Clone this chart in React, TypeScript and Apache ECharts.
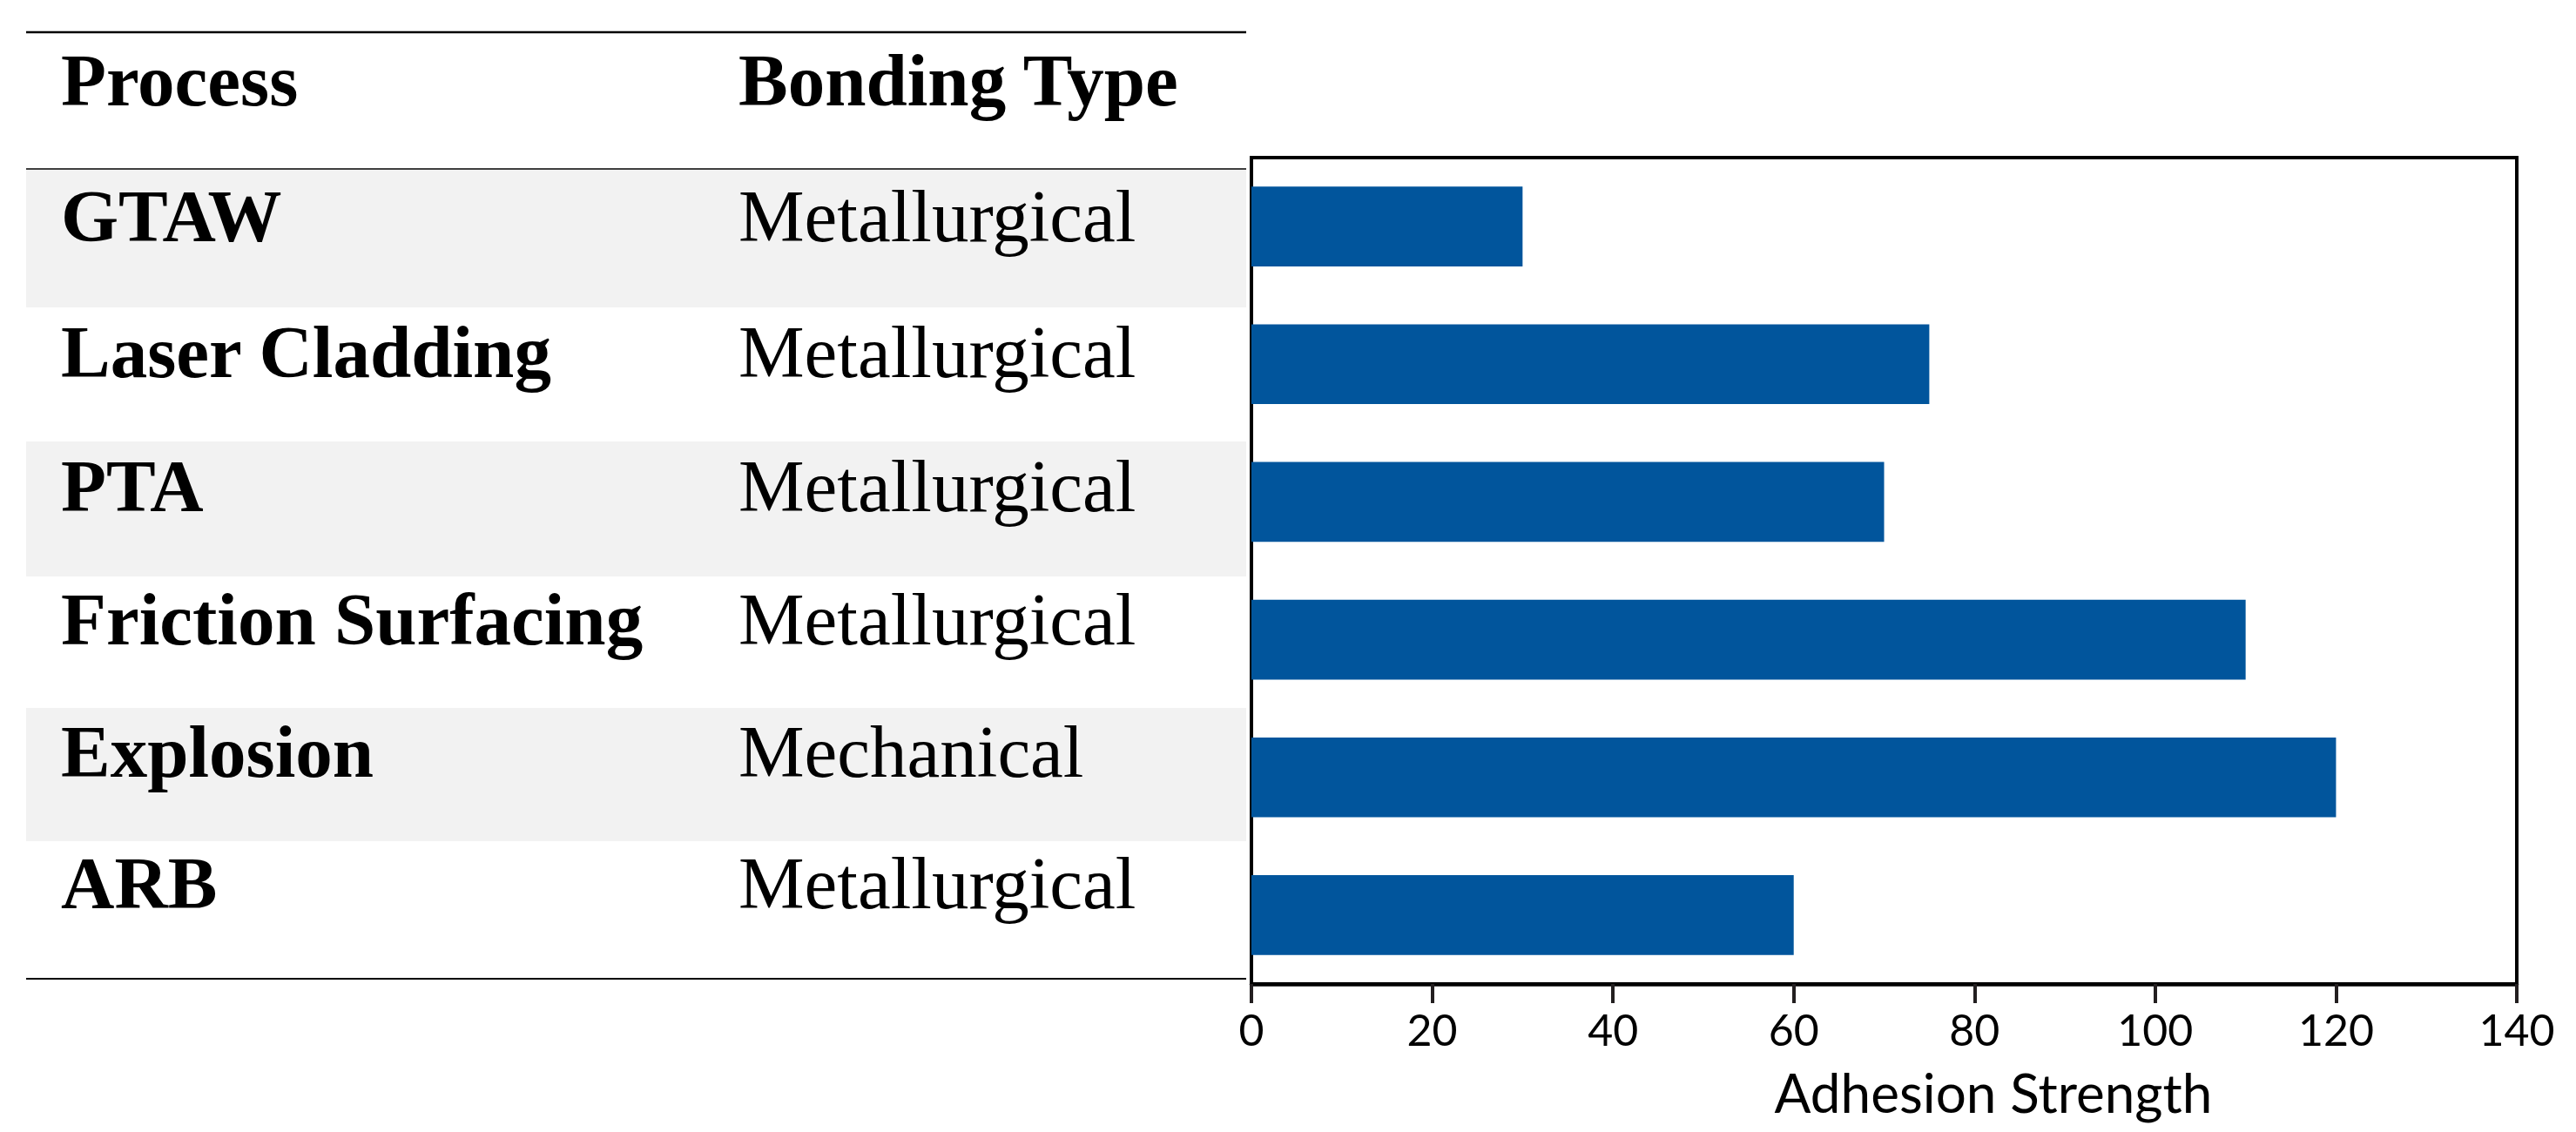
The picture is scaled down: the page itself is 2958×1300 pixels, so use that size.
import React, { useEffect, useRef } from "react";
import * as echarts from "echarts";

const processes = ["GTAW", "Laser Cladding", "PTA", "Friction Surfacing", "Explosion", "ARB"];
const bondingTypes = ["Metallurgical", "Metallurgical", "Metallurgical", "Metallurgical", "Mechanical", "Metallurgical"];
const adhesionStrength = [30, 75, 70, 110, 120, 60];
const headers = ["Process", "Bonding Type"];
const axisTitle = "Adhesion Strength";

// table layout (pixels)
const rowTops = [194, 353, 507, 662, 813, 966, 1124];
const rowTextY = [247.5, 404, 558, 710.5, 862.5, 1013.5];
const shadedRows = [0, 2, 4];

export default function App() {
  const ref = useRef<HTMLDivElement>(null);
  useEffect(() => {
    if (!ref.current) return;
    const chart = echarts.init(ref.current, null, { renderer: "svg" });
    const serif = "'Liberation Serif', 'Times New Roman', serif";
    const sans = "Lato, 'Open Sans', sans-serif";
    const tableLeft = 30;
    const tableRight = 1431;
    const graphics: any[] = [];
    shadedRows.forEach((r) => {
      graphics.push({
        type: "rect",
        z: 0,
        shape: { x: tableLeft, y: rowTops[r], width: tableRight - tableLeft, height: rowTops[r + 1] - rowTops[r] },
        style: { fill: "#f2f2f2" },
      });
    });
    graphics.push({ type: "line", shape: { x1: tableLeft, y1: 37, x2: tableRight, y2: 37 }, style: { stroke: "#000", lineWidth: 2.5 } });
    graphics.push({ type: "line", shape: { x1: tableLeft, y1: 194, x2: tableRight, y2: 194 }, style: { stroke: "#000", lineWidth: 1.3 } });
    graphics.push({ type: "line", shape: { x1: tableLeft, y1: 1124, x2: tableRight, y2: 1124 }, style: { stroke: "#000", lineWidth: 2 } });
    const txt = (s: string, x: number, y: number, bold: boolean, size: number, family: string) => ({
      type: "text",
      x,
      y,
      z: 10,
      style: {
        text: s,
        fill: "#000",
        fontSize: size,
        fontFamily: family,
        fontWeight: bold ? "bold" : "normal",
        align: "left",
        verticalAlign: "middle",
        textAlign: "left",
        textVerticalAlign: "middle",
      },
    });
    graphics.push(txt(headers[0], 70, 91.5, true, 85, serif));
    graphics.push(txt(headers[1], 848, 91.5, true, 85, serif));
    processes.forEach((p, i) => {
      graphics.push(txt(p, 70, rowTextY[i], true, 85, serif));
      graphics.push(txt(bondingTypes[i], 848, rowTextY[i], false, 85, serif));
    });
    graphics.push({
      type: "text",
      x: 2289,
      y: 1254,
      style: {
        text: axisTitle,
        fill: "#000",
        fontSize: 62,
        fontFamily: sans,
        align: "center",
        verticalAlign: "middle",
        textAlign: "center",
        textVerticalAlign: "middle",
      },
    });

    chart.setOption({
      animation: false,
      backgroundColor: "#fff",
      grid: {
        left: 1437,
        top: 181,
        width: 1453,
        height: 949,
        show: true,
        borderColor: "#000",
        borderWidth: 4,
        backgroundColor: "transparent",
      },
      xAxis: {
        type: "value",
        min: 0,
        max: 140,
        interval: 20,
        splitLine: { show: false },
        axisLine: { show: true, lineStyle: { color: "#000", width: 4.5 } },
        axisTick: { show: true, length: 22, lineStyle: { color: "#231f20", width: 4 } },
        axisLabel: {
          show: true,
          margin: 52,
          verticalAlign: "middle",
          fontSize: 50,
          fontFamily: sans,
          color: "#000",
        },
      },
      yAxis: {
        type: "category",
        inverse: true,
        data: processes,
        axisLine: { show: true, lineStyle: { color: "#000", width: 4 } },
        axisTick: { show: false },
        axisLabel: { show: false },
        splitLine: { show: false },
      },
      series: [
        {
          type: "bar",
          data: adhesionStrength,
          barWidth: "58%",
          itemStyle: { color: "#01559c" },
        },
      ],
      graphic: graphics,
    });
    return () => chart.dispose();
  }, []);
  return (
    <div
      ref={ref}
      style={{ position: "fixed", left: 0, top: 0, width: 2958, height: 1300, background: "#fff" }}
    />
  );
}
